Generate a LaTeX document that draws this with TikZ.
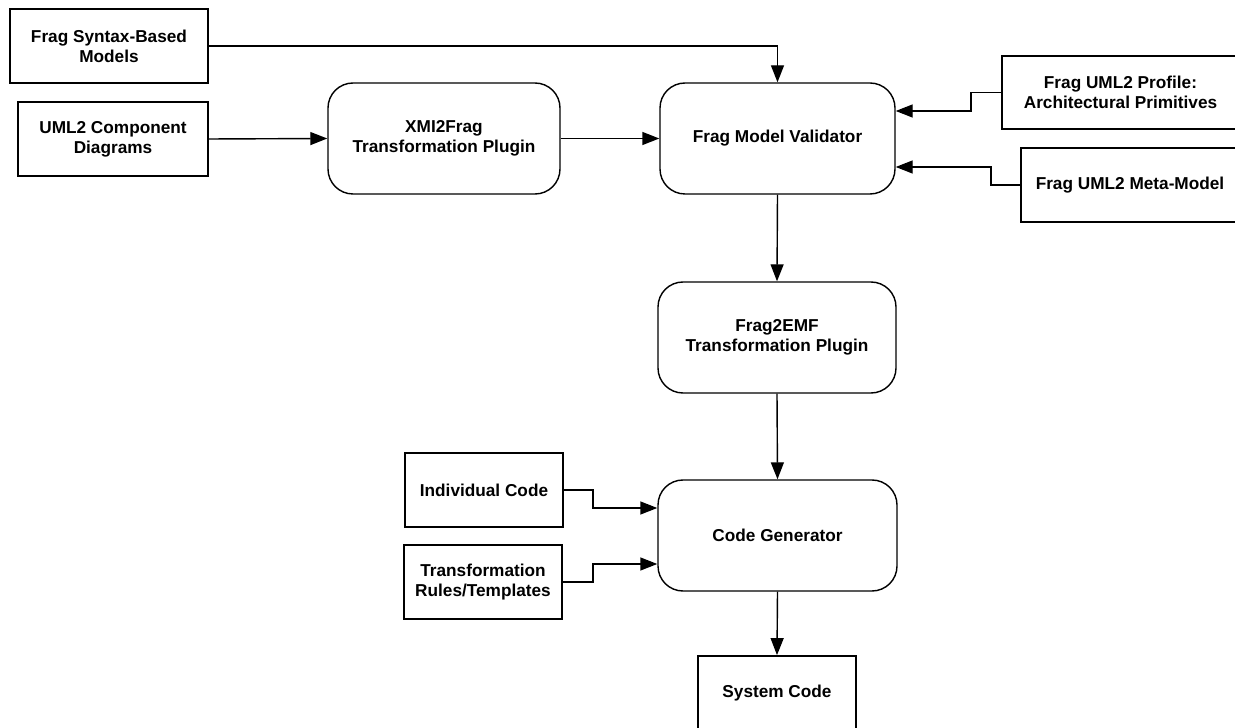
\documentclass[tikz,border=0pt]{standalone}
\usepackage{fontspec}
\setmainfont{Liberation Sans}
\usetikzlibrary{arrows.meta}

\begin{document}
\begin{tikzpicture}[
    txt/.style={font=\fontsize{9.8}{11.5}\selectfont\bfseries, align=center},
    sqbox/.style={txt, draw=black, line width=1pt, inner sep=0pt},
    rndbox/.style={txt, draw=black, line width=0.8pt, rounded corners=0.5cm,
        minimum width=4.7cm, minimum height=2.22cm, inner sep=0pt},
    arr/.style={draw=black, line width=0.8pt, -{Triangle[length=3.4mm,width=2.6mm]}}
]
\useasboundingbox (0,0) rectangle (24.7,-14.56);

% rechteckige Eingaben
\node[sqbox, minimum width=3.96cm, minimum height=1.48cm] (Synt) at (2.18,-0.92)
    {Frag Syntax-Based\\Models};
\node[sqbox, minimum width=3.8cm, minimum height=1.48cm] (Uml) at (2.26,-2.78)
    {UML2 Component\\Diagrams};
\node[sqbox, minimum width=4.74cm, minimum height=1.46cm] (Prof) at (22.41,-1.85)
    {Frag UML2 Profile:\\Architectural Primitives};
\node[sqbox, minimum width=4.36cm, minimum height=1.48cm] (Meta) at (22.6,-3.7)
    {Frag UML2 Meta-Model};
\node[sqbox, minimum width=3.16cm, minimum height=1.48cm] (Indiv) at (9.68,-9.8)
    {Individual Code};
\node[sqbox, minimum width=3.16cm, minimum height=1.48cm] (Trans) at (9.66,-11.64)
    {Transformation\\Rules/Templates};
\node[sqbox, minimum width=3.16cm, minimum height=1.48cm] (Sys) at (15.54,-13.86)
    {System Code};

% Werkzeuge
\node[rndbox, minimum width=4.64cm] (Xmi) at (8.88,-2.77)
    {XMI2Frag\\Transformation Plugin};
\node[rndbox] (Valid) at (15.55,-2.77) {Frag Model Validator};
\node[rndbox, minimum width=4.76cm] (Emf) at (15.54,-6.75)
    {Frag2EMF\\Transformation Plugin};
\node[rndbox, minimum width=4.78cm] (Gen) at (15.55,-10.71) {Code Generator};

% Verbindungen
\draw[arr] (Synt.east) -| (Valid.north);
\draw[arr] (Uml.east) -- (Xmi.west);
\draw[arr] (Xmi.east) -- (Valid.west);
\draw[arr] (Prof.west) -- ++(-0.6,0) |- ([yshift=0.55cm]Valid.east);
\draw[arr] (Meta.west) -- ++(-0.58,0) |- ([yshift=-0.57cm]Valid.east);
\draw[arr] (Valid.south) -- (Emf.north);
\draw[arr] (Emf.south) -- (Gen.north);
\draw[arr] (Indiv.east) -- ++(0.58,0) |- ([yshift=0.55cm]Gen.west);
\draw[arr] (Trans.east) -- ++(0.6,0) |- ([yshift=-0.57cm]Gen.west);
\draw[arr] (Gen.south) -- (Sys.north);
\end{tikzpicture}
\end{document}
